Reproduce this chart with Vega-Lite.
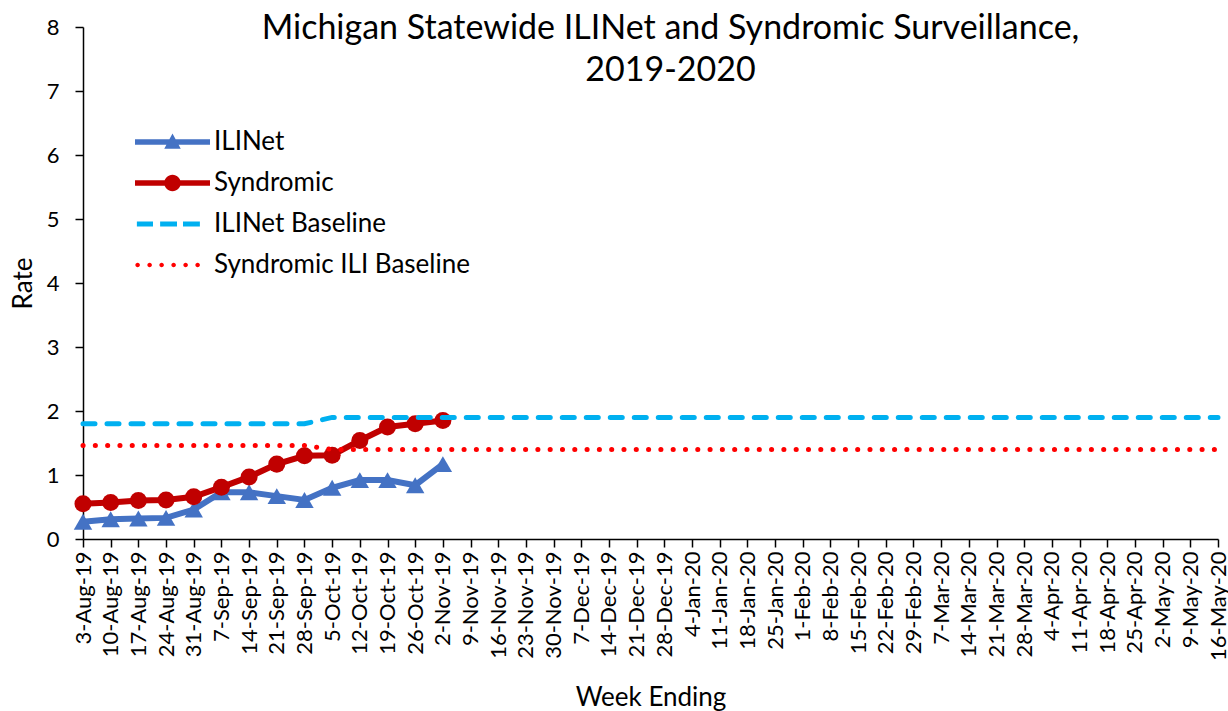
{
  "$schema": "https://vega.github.io/schema/vega-lite/v6.json",
  "width": 1135,
  "height": 512,
  "autosize": "none",
  "padding": {"left": 83, "top": 27, "right": 10, "bottom": 172},
  "background": "white",
  "config": {
    "font": "Lato",
    "view": {"stroke": null},
    "axis": {"grid": false, "labelColor": "black", "titleColor": "black", "domainColor": "black", "tickColor": "black", "domainWidth": 1.5, "tickWidth": 1.5, "labelFont": "Lato", "titleFont": "Lato", "titleFontWeight": "normal"}
  },
  "title": {
    "text": ["Michigan Statewide ILINet and Syndromic Surveillance,", "2019-2020"],
    "font": "Lato",
    "fontSize": 34,
    "fontWeight": "normal",
    "color": "black",
    "anchor": "middle",
    "lineHeight": 42,
    "dx": 20,
    "offset": -72
  },
  "data": {
    "values": [
      {"week": "3-Aug-19", "ILINet": 0.27, "Syndromic": 0.55, "ILINet Baseline": 1.8, "Syndromic ILI Baseline": 1.46},
      {"week": "10-Aug-19", "ILINet": 0.31, "Syndromic": 0.57, "ILINet Baseline": 1.8, "Syndromic ILI Baseline": 1.46},
      {"week": "17-Aug-19", "ILINet": 0.32, "Syndromic": 0.6, "ILINet Baseline": 1.8, "Syndromic ILI Baseline": 1.46},
      {"week": "24-Aug-19", "ILINet": 0.33, "Syndromic": 0.61, "ILINet Baseline": 1.8, "Syndromic ILI Baseline": 1.46},
      {"week": "31-Aug-19", "ILINet": 0.46, "Syndromic": 0.66, "ILINet Baseline": 1.8, "Syndromic ILI Baseline": 1.46},
      {"week": "7-Sep-19", "ILINet": 0.73, "Syndromic": 0.81, "ILINet Baseline": 1.8, "Syndromic ILI Baseline": 1.46},
      {"week": "14-Sep-19", "ILINet": 0.73, "Syndromic": 0.97, "ILINet Baseline": 1.8, "Syndromic ILI Baseline": 1.46},
      {"week": "21-Sep-19", "ILINet": 0.67, "Syndromic": 1.17, "ILINet Baseline": 1.8, "Syndromic ILI Baseline": 1.46},
      {"week": "28-Sep-19", "ILINet": 0.61, "Syndromic": 1.3, "ILINet Baseline": 1.8, "Syndromic ILI Baseline": 1.46},
      {"week": "5-Oct-19", "ILINet": 0.8, "Syndromic": 1.31, "ILINet Baseline": 1.9, "Syndromic ILI Baseline": 1.4},
      {"week": "12-Oct-19", "ILINet": 0.92, "Syndromic": 1.54, "ILINet Baseline": 1.9, "Syndromic ILI Baseline": 1.4},
      {"week": "19-Oct-19", "ILINet": 0.92, "Syndromic": 1.75, "ILINet Baseline": 1.9, "Syndromic ILI Baseline": 1.4},
      {"week": "26-Oct-19", "ILINet": 0.84, "Syndromic": 1.8, "ILINet Baseline": 1.9, "Syndromic ILI Baseline": 1.4},
      {"week": "2-Nov-19", "ILINet": 1.17, "Syndromic": 1.85, "ILINet Baseline": 1.9, "Syndromic ILI Baseline": 1.4},
      {"week": "9-Nov-19", "ILINet": null, "Syndromic": null, "ILINet Baseline": 1.9, "Syndromic ILI Baseline": 1.4},
      {"week": "16-Nov-19", "ILINet": null, "Syndromic": null, "ILINet Baseline": 1.9, "Syndromic ILI Baseline": 1.4},
      {"week": "23-Nov-19", "ILINet": null, "Syndromic": null, "ILINet Baseline": 1.9, "Syndromic ILI Baseline": 1.4},
      {"week": "30-Nov-19", "ILINet": null, "Syndromic": null, "ILINet Baseline": 1.9, "Syndromic ILI Baseline": 1.4},
      {"week": "7-Dec-19", "ILINet": null, "Syndromic": null, "ILINet Baseline": 1.9, "Syndromic ILI Baseline": 1.4},
      {"week": "14-Dec-19", "ILINet": null, "Syndromic": null, "ILINet Baseline": 1.9, "Syndromic ILI Baseline": 1.4},
      {"week": "21-Dec-19", "ILINet": null, "Syndromic": null, "ILINet Baseline": 1.9, "Syndromic ILI Baseline": 1.4},
      {"week": "28-Dec-19", "ILINet": null, "Syndromic": null, "ILINet Baseline": 1.9, "Syndromic ILI Baseline": 1.4},
      {"week": "4-Jan-20", "ILINet": null, "Syndromic": null, "ILINet Baseline": 1.9, "Syndromic ILI Baseline": 1.4},
      {"week": "11-Jan-20", "ILINet": null, "Syndromic": null, "ILINet Baseline": 1.9, "Syndromic ILI Baseline": 1.4},
      {"week": "18-Jan-20", "ILINet": null, "Syndromic": null, "ILINet Baseline": 1.9, "Syndromic ILI Baseline": 1.4},
      {"week": "25-Jan-20", "ILINet": null, "Syndromic": null, "ILINet Baseline": 1.9, "Syndromic ILI Baseline": 1.4},
      {"week": "1-Feb-20", "ILINet": null, "Syndromic": null, "ILINet Baseline": 1.9, "Syndromic ILI Baseline": 1.4},
      {"week": "8-Feb-20", "ILINet": null, "Syndromic": null, "ILINet Baseline": 1.9, "Syndromic ILI Baseline": 1.4},
      {"week": "15-Feb-20", "ILINet": null, "Syndromic": null, "ILINet Baseline": 1.9, "Syndromic ILI Baseline": 1.4},
      {"week": "22-Feb-20", "ILINet": null, "Syndromic": null, "ILINet Baseline": 1.9, "Syndromic ILI Baseline": 1.4},
      {"week": "29-Feb-20", "ILINet": null, "Syndromic": null, "ILINet Baseline": 1.9, "Syndromic ILI Baseline": 1.4},
      {"week": "7-Mar-20", "ILINet": null, "Syndromic": null, "ILINet Baseline": 1.9, "Syndromic ILI Baseline": 1.4},
      {"week": "14-Mar-20", "ILINet": null, "Syndromic": null, "ILINet Baseline": 1.9, "Syndromic ILI Baseline": 1.4},
      {"week": "21-Mar-20", "ILINet": null, "Syndromic": null, "ILINet Baseline": 1.9, "Syndromic ILI Baseline": 1.4},
      {"week": "28-Mar-20", "ILINet": null, "Syndromic": null, "ILINet Baseline": 1.9, "Syndromic ILI Baseline": 1.4},
      {"week": "4-Apr-20", "ILINet": null, "Syndromic": null, "ILINet Baseline": 1.9, "Syndromic ILI Baseline": 1.4},
      {"week": "11-Apr-20", "ILINet": null, "Syndromic": null, "ILINet Baseline": 1.9, "Syndromic ILI Baseline": 1.4},
      {"week": "18-Apr-20", "ILINet": null, "Syndromic": null, "ILINet Baseline": 1.9, "Syndromic ILI Baseline": 1.4},
      {"week": "25-Apr-20", "ILINet": null, "Syndromic": null, "ILINet Baseline": 1.9, "Syndromic ILI Baseline": 1.4},
      {"week": "2-May-20", "ILINet": null, "Syndromic": null, "ILINet Baseline": 1.9, "Syndromic ILI Baseline": 1.4},
      {"week": "9-May-20", "ILINet": null, "Syndromic": null, "ILINet Baseline": 1.9, "Syndromic ILI Baseline": 1.4},
      {"week": "16-May-20", "ILINet": null, "Syndromic": null, "ILINet Baseline": 1.9, "Syndromic ILI Baseline": 1.4}
    ]
  },
  "transform": [
    {"fold": ["ILINet", "Syndromic", "ILINet Baseline", "Syndromic ILI Baseline"], "as": ["series", "rate"]},
    {"filter": "datum.rate != null"}
  ],
  "encoding": {
    "x": {
      "field": "week", "type": "ordinal", "sort": null,
      "scale": {"type": "point", "padding": 0},
      "axis": {"title": "Week Ending", "labelAngle": -90, "labelFontSize": 22, "labelPadding": 4, "tickSize": 8, "titleFontSize": 26, "titlePadding": 24, "labelOverlap": false}
    },
    "y": {
      "field": "rate", "type": "quantitative",
      "scale": {"domain": [0, 8], "nice": false},
      "axis": {"title": "Rate", "values": [0, 1, 2, 3, 4, 5, 6, 7, 8], "labelFontSize": 22, "labelPadding": 16, "tickSize": 8, "titleFontSize": 26, "titlePadding": 10}
    },
    "color": {
      "field": "series", "type": "nominal",
      "scale": {"domain": ["ILINet", "Syndromic", "ILINet Baseline", "Syndromic ILI Baseline"], "range": ["#4472C4", "#C00000", "#00B0F0", "#FF0000"]},
      "legend": {
        "title": null,
        "orient": "none",
        "legendX": 52,
        "legendY": 101,
        "padding": 0,
        "symbolSize": 5625,
        "clipHeight": 28,
        "labelFontSize": 26,
        "labelFont": "Lato",
        "labelColor": "black",
        "labelOffset": 4,
        "rowPadding": 13,
        "labelLimit": 400,
        "encode": {
          "symbols": {
            "update": {
              "shape": {"signal": "datum.value === 'ILINet' ? 'M-1,-0.075H1V0.075H-1Z M0,-0.23L0.22,0.18L-0.22,0.18Z' : datum.value === 'Syndromic' ? 'M-1,-0.075H1V0.075H-1Z M0.22,0A0.22,0.22 0 1,1 -0.22,0A0.22,0.22 0 1,1 0.22,0Z' : datum.value === 'ILINet Baseline' ? 'M-0.95,-0.065H-0.52V0.065H-0.95Z M-0.33,-0.065H0.12V0.065H-0.33Z M0.28,-0.065H0.73V0.065H0.28Z' : 'M-0.87,0A0.06,0.06 0 1,1 -0.99,0A0.06,0.06 0 1,1 -0.87,0Z M-0.55,0A0.06,0.06 0 1,1 -0.67,0A0.06,0.06 0 1,1 -0.55,0Z M-0.23,0A0.06,0.06 0 1,1 -0.35,0A0.06,0.06 0 1,1 -0.23,0Z M0.09,0A0.06,0.06 0 1,1 -0.03,0A0.06,0.06 0 1,1 0.09,0Z M0.41,0A0.06,0.06 0 1,1 0.29,0A0.06,0.06 0 1,1 0.41,0Z M0.73,0A0.06,0.06 0 1,1 0.61,0A0.06,0.06 0 1,1 0.73,0Z'"},
              "fill": {"signal": "scale('color', datum.value)"},
              "stroke": {"value": "transparent"},
              "strokeWidth": {"value": 0},
              "opacity": {"value": 1}
            }
          }
        }
      }
    }
  },
  "layer": [
    {
      "transform": [{"filter": "datum.series === 'ILINet'"}],
      "mark": {"type": "line", "strokeWidth": 6, "point": {"shape": "triangle-up", "size": 340, "filled": true, "opacity": 1}}
    },
    {
      "transform": [{"filter": "datum.series === 'Syndromic'"}],
      "mark": {"type": "line", "strokeWidth": 6, "point": {"shape": "circle", "size": 290, "filled": true, "opacity": 1}}
    },
    {
      "transform": [{"filter": "datum.series === 'ILINet Baseline'"}],
      "mark": {"type": "line", "strokeWidth": 5, "strokeCap": "round", "strokeDash": [12, 12]}
    },
    {
      "transform": [{"filter": "datum.series === 'Syndromic ILI Baseline'"}],
      "mark": {"type": "line", "strokeWidth": 5, "strokeCap": "round", "strokeDash": [0.1, 12.2]}
    }
  ]
}
